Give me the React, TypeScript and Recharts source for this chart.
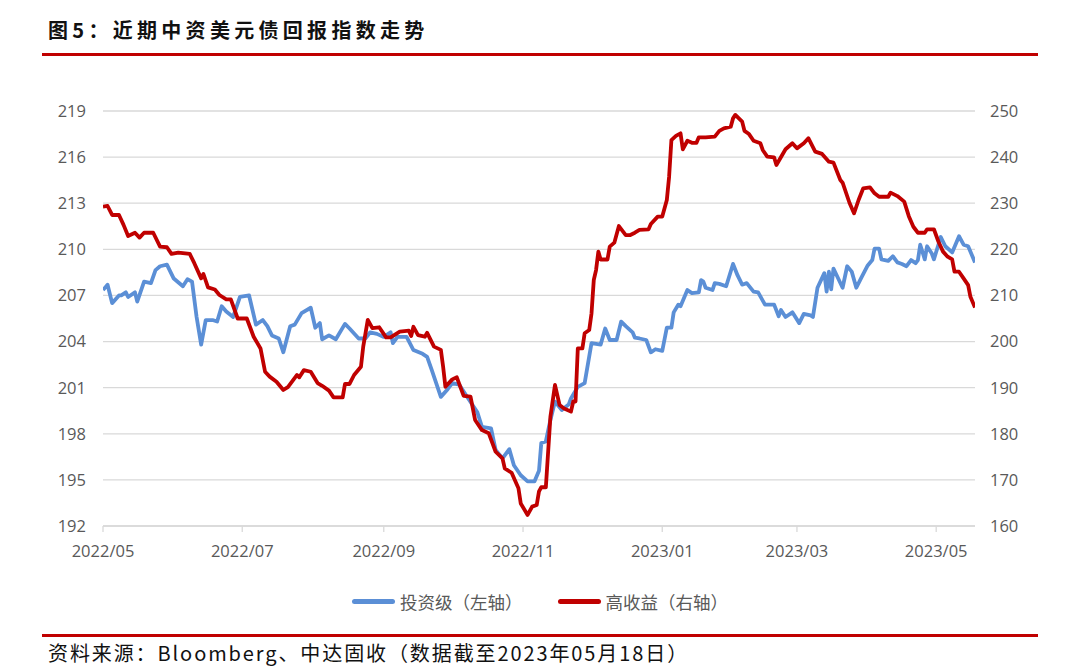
import React from "react";
import { LineChart, Line, XAxis, YAxis, CartesianGrid, Legend } from "recharts";

// x = days since 2022-05-01
const xTickDays = [0, 61, 123, 184, 245, 304, 365];
const xTickLabels = ["2022/05", "2022/07", "2022/09", "2022/11", "2023/01", "2023/03", "2023/05"];
const leftTicks = [192, 195, 198, 201, 204, 207, 210, 213, 216, 219];
const rightTicks = [160, 170, 180, 190, 200, 210, 220, 230, 240, 250];

const seriesNames = ["投资级（左轴）", "高收益（右轴）"];

// 投资级 (left axis): [day, value]
const investmentGrade: [number, number][] = [
  [0, 207.35], [2, 207.7], [4, 206.5], [7, 207.0], [8, 207.0], [10, 207.2], [11, 206.9], [14, 207.2], [15, 206.6],
  [18, 207.9], [21, 207.8], [23, 208.65], [25, 208.9], [28, 209.0], [31, 208.1], [35, 207.6], [37, 208.05], [39, 207.9],
  [41, 205.6], [43, 203.8], [45, 205.4], [48, 205.4], [50, 205.3], [52, 206.3], [54, 205.95], [57, 205.6], [60, 206.9],
  [64, 207.0], [67, 205.1], [70, 205.4], [72, 205.0], [74, 204.4], [77, 204.2], [79, 203.3], [82, 205.0], [84, 205.1],
  [87, 205.85], [91, 206.2], [93, 204.9], [95, 205.2], [96, 204.15], [99, 204.4], [102, 204.15], [106, 205.15],
  [108, 204.85], [112, 204.2], [115, 204.2], [117, 204.6], [120, 204.5], [123, 204.3], [126, 204.6], [127, 203.9],
  [129, 204.3], [133, 204.3], [136, 203.45], [140, 203.2], [142, 203.0], [144, 202.15], [148, 200.4], [151, 200.9],
  [153, 201.3], [156, 201.2], [160, 200.3], [164, 199.4], [166, 198.45], [170, 198.35], [172, 196.95], [175, 196.4],
  [178, 197.0], [180, 195.95], [183, 195.3], [186, 194.9], [189, 194.9], [191, 195.6], [192, 197.4], [194, 197.5],
  [196, 198.9], [198, 200.1], [201, 199.55], [204, 199.9], [205, 200.3], [208, 201.05], [211, 201.3], [214, 203.9],
  [218, 203.8], [220, 204.85], [222, 204.1], [225, 204.1], [227, 205.3], [229, 205.0], [232, 204.6], [233, 204.25],
  [235, 204.2], [238, 204.1], [240, 203.3], [242, 203.5], [245, 203.4], [247, 204.9], [249, 204.9], [250, 205.9],
  [252, 206.4], [253, 206.3], [256, 207.35], [258, 207.15], [261, 207.2], [262, 208.0], [263, 207.9], [264, 207.5],
  [267, 207.35], [268, 207.8], [270, 207.75], [273, 207.6], [276, 209.05], [278, 208.3], [280, 207.7], [282, 207.8],
  [285, 207.25], [287, 207.2], [290, 206.4], [294, 206.4], [296, 205.65], [297, 206.05], [299, 205.6], [302, 205.9],
  [305, 205.2], [307, 205.8], [310, 205.7], [311, 205.6], [313, 207.5], [316, 208.45], [317, 207.25], [318, 208.55],
  [319, 207.4], [320, 208.75], [324, 207.5], [326, 208.9], [328, 208.55], [330, 207.5], [332, 208.1], [335, 208.95],
  [337, 209.3], [338, 210.05], [340, 210.05], [341, 209.35], [344, 209.25], [346, 209.55], [348, 209.15], [350, 209.05],
  [352, 208.9], [354, 209.3], [356, 209.1], [357, 209.3], [358, 210.3], [360, 209.35], [361, 210.2], [363, 209.75],
  [364, 209.35], [367, 210.8], [369, 210.2], [372, 209.8], [375, 210.85], [377, 210.3], [379, 210.2], [382, 209.15],
];

// 高收益 (right axis): [day, value]
const highYield: [number, number][] = [
  [0, 229.25], [2, 229.4], [4, 227.45], [7, 227.45], [9, 225.3], [11, 222.9], [14, 223.6], [16, 222.55], [18, 223.6],
  [22, 223.6], [25, 220.6], [28, 220.45], [30, 219.0], [33, 219.3], [38, 219.0], [40, 217.0], [43, 213.7], [44, 214.65],
  [46, 211.75], [49, 211.3], [51, 210.1], [54, 209.15], [56, 209.15], [59, 205.0], [63, 205.0], [66, 201.05], [69, 198.5],
  [71, 193.45], [73, 192.4], [76, 191.3], [79, 189.5], [81, 190.1], [85, 192.75], [86, 192.25], [88, 193.8], [91, 193.45],
  [94, 191.0], [96, 190.4], [99, 189.35], [101, 187.9], [105, 187.9], [106, 190.8], [108, 190.8], [110, 192.75],
  [113, 194.55], [114, 198.9], [116, 204.7], [118, 202.9], [121, 203.1], [124, 200.9], [126, 200.9], [130, 202.15],
  [134, 202.35], [135, 201.2], [136, 203.2], [138, 201.4], [141, 201.05], [142, 201.9], [145, 198.9], [148, 198.2],
  [149, 194.55], [150, 190.2], [153, 191.8], [155, 192.25], [158, 188.2], [161, 188.05], [163, 183.0], [166, 180.8],
  [169, 180.1], [172, 176.1], [175, 174.65], [176, 172.5], [179, 171.55], [182, 168.2], [183, 164.9], [186, 162.4],
  [188, 164.2], [190, 164.55], [191, 167.5], [192, 168.4], [194, 168.4], [196, 183.7], [198, 190.6], [200, 186.25],
  [202, 185.5], [205, 184.8], [206, 187.0], [207, 187.0], [208, 198.5], [210, 198.5], [211, 201.8], [213, 202.5],
  [214, 206.1], [215, 213.35], [216, 215.5], [217, 219.5], [218, 217.8], [221, 217.8], [222, 220.6], [224, 221.45],
  [226, 225.05], [229, 223.1], [231, 223.1], [233, 223.6], [235, 224.2], [239, 224.35], [240, 225.5], [243, 227.1],
  [245, 227.1], [247, 230.7], [248, 235.75], [249, 243.7], [251, 244.6], [253, 245.15], [254, 241.7], [256, 243.55],
  [258, 243.1], [260, 243.1], [261, 244.3], [264, 244.3], [268, 244.45], [270, 245.7], [272, 246.25], [275, 246.6],
  [276, 248.4], [277, 249.15], [280, 247.7], [281, 245.7], [283, 245.0], [285, 243.55], [288, 243.0], [289, 241.55],
  [291, 240.1], [294, 239.95], [295, 238.3], [299, 241.7], [302, 243.0], [304, 241.9], [307, 243.0], [309, 244.1],
  [312, 241.2], [315, 240.7], [318, 239.0], [320, 238.8], [323, 235.05], [324, 234.45], [327, 230.1], [329, 227.8],
  [331, 230.7], [333, 233.2], [336, 233.45], [338, 232.15], [340, 231.4], [344, 231.4], [345, 232.3], [348, 231.55],
  [351, 230.35], [353, 227.2], [355, 224.9], [357, 223.6], [360, 223.6], [361, 224.35], [364, 224.35], [366, 221.65],
  [368, 219.5], [370, 218.4], [372, 217.8], [373, 215.15], [375, 215.15], [377, 213.7], [379, 212.25], [380, 209.7],
  [382, 207.4],
];

const BLUE = "#5B8FD6";
const RED = "#C00000";
const GRID = "#D9D9D9";
const TICK = "#595959";

const igData = investmentGrade.map(([day, v]) => ({ day, ig: v }));
const hyData = highYield.map(([day, v]) => ({ day, hy: v }));

const tickStyle = { fill: TICK, fontSize: 16.5, fontFamily: "'Open Sans', sans-serif" };

const LegendContent = (props: any) => {
  const payload = props.payload || [];
  return (
    <div style={{ display: "flex", justifyContent: "center", alignItems: "center", height: 24 }}>
      {payload.map((p: any, i: number) => (
        <div key={i} style={{ display: "flex", alignItems: "center", marginLeft: i === 0 ? 0 : 35 }}>
          <div style={{ width: 43, height: 5, borderRadius: 3, background: p.color, marginRight: 5 }} />
          <span style={{ fontFamily: "'Noto Sans CJK SC', sans-serif", fontSize: 17.5, color: TICK }}>{p.value}</span>
        </div>
      ))}
    </div>
  );
};

export default function App() {
  return (
    <div style={{ position: "absolute", left: 0, top: 0, width: 1080, height: 668, background: "#fff", overflow: "hidden" }}>
      <div
        style={{
          position: "absolute", left: 48, top: 17, fontFamily: "'Noto Sans CJK SC', sans-serif", fontWeight: 700,
          fontSize: 20, letterSpacing: 4.3, color: "#111", lineHeight: "26px", whiteSpace: "nowrap",
        }}
      >
        图5：近期中资美元债回报指数走势
      </div>
      <div style={{ position: "absolute", left: 42, top: 53, width: 996, height: 3, background: RED }} />
      <div style={{ position: "absolute", left: 42, top: 634, width: 996, height: 3, background: RED }} />
      <div
        style={{
          position: "absolute", left: 48, top: 640, fontFamily: "'Noto Sans CJK SC', sans-serif", fontSize: 20,
          letterSpacing: 1.9, color: "#111", lineHeight: "26px", whiteSpace: "nowrap",
        }}
      >
        资料来源：Bloomberg、中达固收（数据截至2023年05月18日）
      </div>
      <div style={{ position: "absolute", left: 0, top: 0 }}>
        <LineChart width={1080} height={668} margin={{ top: 111, right: 0, bottom: 112, left: 0 }}>
          <CartesianGrid vertical={false} stroke={GRID} strokeWidth={1.3} />
          <XAxis
            type="number"
            dataKey="day"
            domain={[0, 382]}
            ticks={xTickDays}
            interval={0}
            allowDataOverflow
            height={30}
            tickFormatter={(v: number) => xTickLabels[xTickDays.indexOf(v)] ?? ""}
            tick={tickStyle}
            stroke={GRID}
            strokeWidth={1.3}
            tickSize={6}
            tickMargin={13}
          />
          <YAxis
            domain={[192, 219]}
            ticks={leftTicks}
            interval={0}
            width={103}
            axisLine={false}
            tickLine={false}
            tick={tickStyle}
            tickSize={6}
            tickMargin={11}
            allowDataOverflow
          />
          <YAxis
            yAxisId="right"
            orientation="right"
            domain={[160, 250]}
            ticks={rightTicks}
            interval={0}
            width={105}
            axisLine={false}
            tickLine={false}
            tick={{ ...tickStyle, textAnchor: "start" }}
            tickSize={6}
            tickMargin={9}
            allowDataOverflow
          />
          <Legend
            verticalAlign="middle"
            align="center"
            content={<LegendContent />}
            wrapperStyle={{ top: 589, left: 0, width: 1080 }}
          />
          <Line
            data={igData}
            dataKey="ig"
            name={seriesNames[0]}
            stroke={BLUE}
            strokeWidth={3.8}
            dot={false}
            activeDot={false}
            type="linear"
            strokeLinejoin="round"
            isAnimationActive={false}
          />
          <Line
            data={hyData}
            dataKey="hy"
            yAxisId="right"
            name={seriesNames[1]}
            stroke={RED}
            strokeWidth={3.8}
            dot={false}
            activeDot={false}
            type="linear"
            strokeLinejoin="round"
            isAnimationActive={false}
          />
        </LineChart>
      </div>
    </div>
  );
}
